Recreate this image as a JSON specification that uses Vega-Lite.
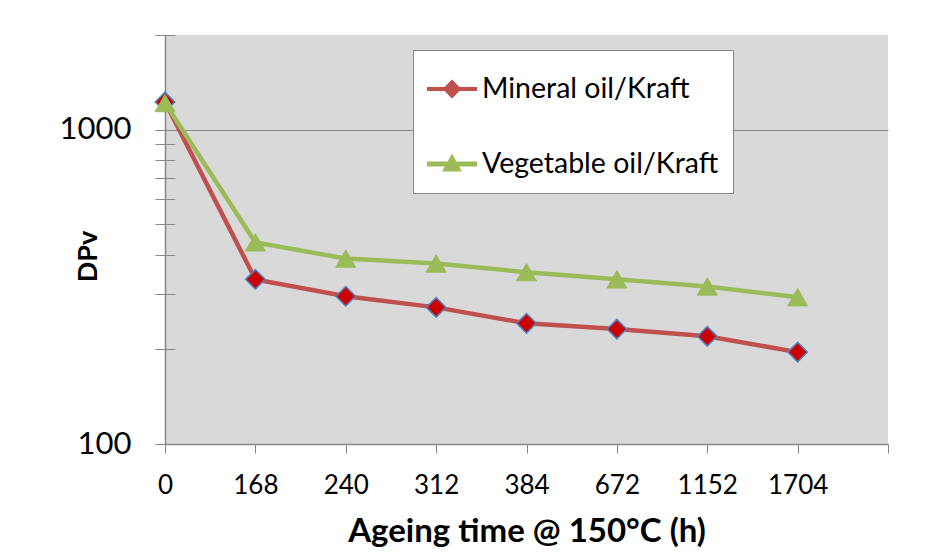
{
  "$schema": "https://vega.github.io/schema/vega-lite/v6.json",
  "width": 723,
  "height": 409,
  "autosize": {"type": "none"},
  "padding": {"left": 165, "top": 35, "right": 60, "bottom": 116},
  "background": "white",
  "config": {
    "font": "Lato",
    "view": {"fill": "#d9d9d9", "stroke": null},
    "axis": {"labelColor": "#000", "titleColor": "#000", "domainColor": "#888", "tickColor": "#888", "gridColor": "#888"}
  },
  "data": {
    "values": [
      {"hours": "0", "series": "Mineral oil/Kraft", "dpv": 1225},
      {"hours": "168", "series": "Mineral oil/Kraft", "dpv": 334},
      {"hours": "240", "series": "Mineral oil/Kraft", "dpv": 295},
      {"hours": "312", "series": "Mineral oil/Kraft", "dpv": 272},
      {"hours": "384", "series": "Mineral oil/Kraft", "dpv": 242},
      {"hours": "672", "series": "Mineral oil/Kraft", "dpv": 232},
      {"hours": "1152", "series": "Mineral oil/Kraft", "dpv": 220},
      {"hours": "1704", "series": "Mineral oil/Kraft", "dpv": 196},
      {"hours": "0", "series": "Vegetable oil/Kraft", "dpv": 1215},
      {"hours": "168", "series": "Vegetable oil/Kraft", "dpv": 438},
      {"hours": "240", "series": "Vegetable oil/Kraft", "dpv": 389},
      {"hours": "312", "series": "Vegetable oil/Kraft", "dpv": 375},
      {"hours": "384", "series": "Vegetable oil/Kraft", "dpv": 352},
      {"hours": "672", "series": "Vegetable oil/Kraft", "dpv": 334},
      {"hours": "1152", "series": "Vegetable oil/Kraft", "dpv": 317},
      {"hours": "1704", "series": "Vegetable oil/Kraft", "dpv": 293}
    ]
  },
  "encoding": {
    "x": {
      "field": "hours",
      "type": "ordinal",
      "sort": null,
      "scale": {"type": "point", "domain": ["0", "168", "240", "312", "384", "672", "1152", "1704", " "], "padding": 0},
      "axis": {
        "title": "Ageing time @ 150°C (h)",
        "titleFontSize": 33,
        "titleFontWeight": "bold",
        "titlePadding": 17,
        "labelFontSize": 26,
        "labelAngle": 0,
        "labelPadding": 19,
        "tickSize": 9,
        "domainWidth": 1.5,
        "grid": false
      }
    }
  },
  "resolve": {"scale": {"y": "shared"}, "axis": {"y": "independent"}},
  "layer": [
    {
      "mark": {"type": "line", "strokeWidth": 4.5},
      "encoding": {
        "y": {
          "field": "dpv",
          "type": "quantitative",
          "scale": {"type": "log", "domain": [100, 2000], "nice": false, "zero": false},
          "axis": {
            "orient": "left",
            "values": [100, 1000],
            "format": "d",
            "title": "DPv",
            "titleFontSize": 27,
            "titleFontWeight": "bold",
            "titleAngle": -90,
            "titleX": -77,
            "titleY": 221,
            "titleAlign": "center",
            "titleBaseline": "middle",
            "labelFontSize": 31,
            "labelPadding": 24,
            "tickSize": 10,
            "domainWidth": 1.5,
            "grid": true,
            "gridWidth": 1.2
          }
        },
        "color": {
          "field": "series",
          "type": "nominal",
          "scale": {"domain": ["Mineral oil/Kraft", "Vegetable oil/Kraft"], "range": ["#c0504d", "#9bbb59"]},
          "legend": {
            "title": null,
            "orient": "none",
            "legendX": 248,
            "legendY": 15,
            "fillColor": "white",
            "strokeColor": "#888",
            "padding": 14,
            "symbolSize": 2500,
            "labelFontSize": 28.5,
            "labelColor": "#000",
            "labelOffset": 5,
            "rowPadding": 35,
            "labelLimit": 400,
            "encode": {
              "symbols": {
                "update": {
                  "shape": {"signal": "datum.value === 'Mineral oil/Kraft' ? 'M-1,-0.08H-0.3L0,-0.38L0.3,-0.08H1V0.08H0.3L0,0.38L-0.3,0.08H-1Z' : 'M-1,-0.1H-0.178L0,-0.42L0.178,-0.1H1V0.1H0.289L0.4,0.3H-0.4L-0.289,0.1H-1Z'"},
                  "fill": {"signal": "datum.value === 'Mineral oil/Kraft' ? '#c0504d' : '#9bbb59'"},
                  "stroke": {"value": "transparent"},
                  "strokeWidth": {"value": 0},
                  "opacity": {"value": 1}
                }
              }
            }
          }
        }
      }
    },
    {
      "transform": [{"filter": "datum.series === 'Mineral oil/Kraft'"}],
      "mark": {"type": "point", "shape": "diamond", "filled": true, "fill": "#cc0000", "stroke": "#4f81bd", "opacity": 1, "strokeWidth": 1.5, "size": 380},
      "encoding": {
        "y": {
          "field": "dpv",
          "type": "quantitative",
          "axis": {
            "orient": "left",
            "values": [200, 300, 400, 500, 600, 700, 800, 900, 2000],
            "labels": false,
            "title": null,
            "domain": false,
            "grid": false,
            "offset": -10,
            "tickSize": 20
          }
        }
      }
    },
    {
      "transform": [{"filter": "datum.series === 'Vegetable oil/Kraft'"}],
      "mark": {"type": "point", "shape": "triangle-up", "filled": true, "fill": "#9bbb59", "stroke": "#9bbb59", "opacity": 1, "strokeWidth": 1, "size": 400},
      "encoding": {
        "y": {"field": "dpv", "type": "quantitative", "axis": null}
      }
    }
  ]
}
